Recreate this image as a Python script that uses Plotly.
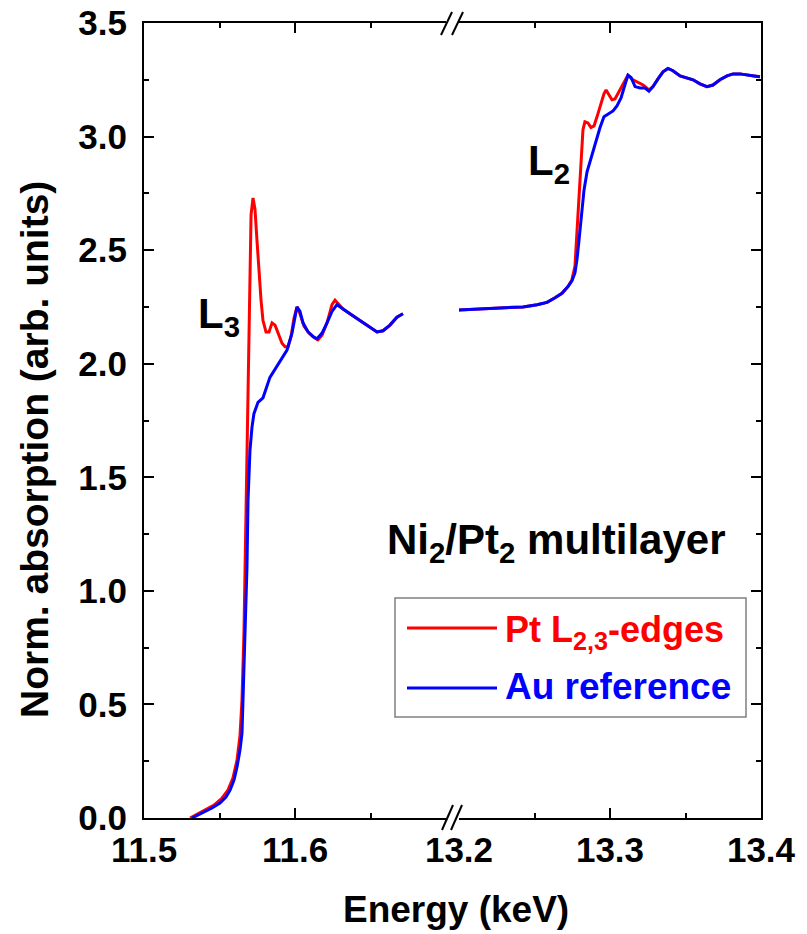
import plotly.graph_objects as go

# ---------------- data ----------------
# L3 edge region (left axis segment)
l3_energy_pt = [11.5305, 11.5358, 11.541, 11.5464, 11.5517, 11.5556, 11.5589, 11.5616, 11.5636,
                11.5649, 11.5662, 11.5669, 11.5675, 11.5682, 11.5689, 11.5695, 11.5702, 11.5709,
                11.5722, 11.5735, 11.5748, 11.5762, 11.5775, 11.5788, 11.5808, 11.5828, 11.5848,
                11.5868, 11.5887, 11.5914, 11.5934, 11.5954, 11.5974, 11.5993, 11.6013, 11.6033,
                11.606, 11.6093, 11.6126, 11.6152, 11.6179, 11.6212, 11.6245, 11.6265, 11.6285,
                11.6318, 11.6364, 11.643, 11.6497, 11.6543, 11.6583, 11.6629, 11.6675, 11.6715]
l3_abs_pt = [0.0, 0.018, 0.035, 0.057, 0.088, 0.123, 0.176, 0.255, 0.365,
             0.52, 0.815, 1.105, 1.40, 1.665, 1.93, 2.19, 2.46, 2.655,
             2.73, 2.68, 2.545, 2.39, 2.28, 2.19, 2.14, 2.14, 2.18,
             2.17, 2.135, 2.09, 2.075, 2.075, 2.12, 2.20, 2.25, 2.22,
             2.165, 2.135, 2.115, 2.105, 2.125, 2.18, 2.26, 2.28, 2.265,
             2.24, 2.22, 2.19, 2.16, 2.14, 2.145, 2.17, 2.205, 2.22]

l3_energy_au = [11.5318, 11.5358, 11.5404, 11.545, 11.5503, 11.5543, 11.557, 11.5596, 11.5616,
                11.5636, 11.5649, 11.5656, 11.5669, 11.5682, 11.5689, 11.5702, 11.5715, 11.5728,
                11.5755, 11.5788, 11.5834, 11.5881, 11.592, 11.5947, 11.598, 11.6, 11.6013,
                11.6033, 11.6053, 11.6086, 11.6119, 11.6146, 11.6179, 11.6212, 11.6245, 11.6278,
                11.6318, 11.6364, 11.643, 11.6497, 11.6543, 11.6583, 11.6629, 11.6675, 11.6715]
l3_abs_au = [0.0, 0.013, 0.026, 0.044, 0.066, 0.092, 0.123, 0.167, 0.225,
             0.30, 0.374, 0.52, 0.815, 1.105, 1.40, 1.62, 1.72, 1.78,
             1.83, 1.85, 1.94, 1.99, 2.03, 2.06, 2.135, 2.20, 2.25,
             2.23, 2.18, 2.14, 2.12, 2.11, 2.135, 2.18, 2.23, 2.26,
             2.24, 2.22, 2.19, 2.16, 2.14, 2.145, 2.17, 2.205, 2.22]

# L2 edge region (right axis segment)
l2_energy_au = [13.2, 13.2106, 13.2205, 13.2305, 13.2424, 13.2517, 13.2583, 13.2636, 13.2682,
                13.2722, 13.2748, 13.2768, 13.2781, 13.2795, 13.2808, 13.2828, 13.2848, 13.2874,
                13.29, 13.2934, 13.296, 13.2987, 13.302, 13.3046, 13.3073, 13.3099, 13.3119,
                13.3139, 13.3166, 13.3199, 13.3232, 13.3258, 13.3285, 13.3318, 13.3351, 13.3384,
                13.3417, 13.3464, 13.351, 13.355, 13.3596, 13.3642, 13.3682, 13.3728, 13.3775,
                13.3815, 13.3861, 13.3907, 13.3954, 13.3993]
l2_abs_au = [2.237, 2.24, 2.245, 2.245, 2.25, 2.26, 2.27, 2.29, 2.31,
             2.34, 2.365, 2.40, 2.457, 2.545, 2.646, 2.765, 2.845, 2.906,
             2.97, 3.04, 3.087, 3.10, 3.113, 3.135, 3.17, 3.228, 3.27,
             3.26, 3.22, 3.214, 3.214, 3.20, 3.22, 3.254, 3.285, 3.30,
             3.29, 3.267, 3.258, 3.25, 3.232, 3.22, 3.227, 3.25, 3.267,
             3.276, 3.276, 3.27, 3.267, 3.263]

l2_energy_pt = [13.2, 13.2106, 13.2205, 13.2305, 13.2424, 13.2517, 13.2583, 13.2636, 13.2682,
                13.2722, 13.2748, 13.2768, 13.2781, 13.2795, 13.2808, 13.2821, 13.2834, 13.2854,
                13.2874, 13.2894, 13.2914, 13.294, 13.296, 13.2974, 13.2993, 13.3013, 13.3033,
                13.306, 13.3086, 13.3119, 13.3152, 13.3185, 13.3219, 13.3258, 13.3285, 13.3318,
                13.3351, 13.3384, 13.3417, 13.3464, 13.351, 13.355, 13.3596, 13.3642, 13.3682,
                13.3728, 13.3775, 13.3815, 13.3861, 13.3907, 13.3954, 13.3993]
l2_abs_pt = [2.237, 2.24, 2.245, 2.245, 2.25, 2.26, 2.27, 2.29, 2.31,
             2.34, 2.37, 2.43, 2.567, 2.72, 2.897, 3.03, 3.065, 3.06,
             3.04, 3.047, 3.087, 3.144, 3.188, 3.205, 3.183, 3.162, 3.166,
             3.197, 3.232, 3.27, 3.25, 3.24, 3.227, 3.205, 3.22, 3.254,
             3.285, 3.30, 3.29, 3.267, 3.258, 3.25, 3.232, 3.22, 3.227,
             3.25, 3.267, 3.276, 3.276, 3.27, 3.267, 3.263]

left_ticks = [11.5, 11.6]
left_minor = [11.55, 11.65]
right_ticks = [13.2, 13.3, 13.4]
right_minor = [13.25, 13.35]
y_ticks = [0.0, 0.5, 1.0, 1.5, 2.0, 2.5, 3.0, 3.5]
y_minor = [0.25, 0.75, 1.25, 1.75, 2.25, 2.75, 3.25]

RED = "#ff0000"
BLUE = "#0000ff"
FONT = "Arial, Liberation Sans, sans-serif"

# ---------------- figure ----------------
fig = go.Figure()
fig.add_trace(go.Scatter(x=l3_energy_pt, y=l3_abs_pt, mode="lines", line=dict(color=RED, width=3),
                         name="Pt L<sub>2,3</sub>-edges", xaxis="x", yaxis="y", showlegend=False))
fig.add_trace(go.Scatter(x=l2_energy_pt, y=l2_abs_pt, mode="lines", line=dict(color=RED, width=3),
                         name="Pt L<sub>2,3</sub>-edges", xaxis="x2", yaxis="y2", showlegend=False))
fig.add_trace(go.Scatter(x=l3_energy_au, y=l3_abs_au, mode="lines", line=dict(color=BLUE, width=3),
                         name="Au reference", xaxis="x", yaxis="y", showlegend=False))
fig.add_trace(go.Scatter(x=l2_energy_au, y=l2_abs_au, mode="lines", line=dict(color=BLUE, width=3),
                         name="Au reference", xaxis="x2", yaxis="y2", showlegend=False))

PW = 617.0  # plot width in px
PH = 795.0  # plot height in px
L0, B0 = 144.0, 818.0


def px(x):
    return (x - L0) / PW


def py(y):
    return (B0 - y) / PH


axis_common = dict(showline=True, linecolor="black", linewidth=2, ticks="inside", ticklen=10,
                   tickwidth=2, tickcolor="black", showgrid=False, zeroline=False, automargin=False,
                   tickfont=dict(family=FONT, size=35, color="black", weight="bold"))

fig.update_layout(
    width=807, height=934,
    margin=dict(l=144, r=46, t=23, b=116, pad=0, autoexpand=False),
    paper_bgcolor="white", plot_bgcolor="white",
    showlegend=False,
    xaxis=dict(domain=[0, 302 / PW], range=[11.5, 11.7], tickvals=left_ticks, tickformat=".1f",
               anchor="y", mirror="ticks",
               minor=dict(tickvals=left_minor, ticks="inside", ticklen=5, tickwidth=2, tickcolor="black"),
               **axis_common),
    xaxis2=dict(domain=[315 / PW, 1], range=[13.2, 13.4], tickvals=right_ticks, tickformat=".1f",
                anchor="y2", mirror="ticks",
                minor=dict(tickvals=right_minor, ticks="inside", ticklen=5, tickwidth=2, tickcolor="black"),
                **axis_common),
    yaxis=dict(range=[0, 3.5], tickvals=y_ticks, tickformat=".1f", anchor="x", side="left",
               ticklabelstandoff=8,
               minor=dict(tickvals=y_minor, ticks="inside", ticklen=5, tickwidth=2, tickcolor="black"),
               **axis_common),
    yaxis2=dict(range=[0, 3.5], tickvals=y_ticks, anchor="x2", side="right", showticklabels=False,
                minor=dict(tickvals=y_minor, ticks="inside", ticklen=5, tickwidth=2, tickcolor="black"),
                **axis_common),
)

# axis break marks
shapes = []
for (x0, y0, x1, y1) in [(441, 35, 452, 12), (452, 35, 463, 12),
                         (442, 830, 453, 805), (451, 830, 462, 805)]:
    shapes.append(dict(type="line", xref="paper", yref="paper", x0=px(x0), y0=py(y0), x1=px(x1), y1=py(y1),
                       line=dict(color="black", width=2)))

# legend box (manual, to match long line samples)
shapes.append(dict(type="rect", xref="paper", yref="paper", x0=px(395), x1=px(746), y0=py(717), y1=py(598),
                   line=dict(color="#808080", width=1.5), fillcolor="white", layer="above"))
shapes.append(dict(type="line", xref="paper", yref="paper", x0=px(407), x1=px(497), y0=py(628), y1=py(628),
                   line=dict(color=RED, width=3)))
shapes.append(dict(type="line", xref="paper", yref="paper", x0=px(407), x1=px(497), y0=py(688), y1=py(688),
                   line=dict(color=BLUE, width=3)))
fig.update_layout(shapes=shapes)

ann = []
ann.append(dict(text="Pt L<sub>2,3</sub>-edges", x=px(503), y=py(632), xref="paper", yref="paper",
                xanchor="left", yanchor="middle", showarrow=False,
                font=dict(family=FONT, size=36, color=RED, weight="bold")))
ann.append(dict(text="Au reference", x=px(503), y=py(686), xref="paper", yref="paper",
                xanchor="left", yanchor="middle", showarrow=False,
                font=dict(family=FONT, size=37, color=BLUE, weight="bold")))
ann.append(dict(text="Ni<sub>2</sub>/Pt<sub>2</sub> multilayer", x=px(385), y=py(542), xref="paper",
                yref="paper", xanchor="left", yanchor="middle", showarrow=False,
                font=dict(family=FONT, size=42, color="black", weight="bold")))
ann.append(dict(text="L<sub>3</sub>", x=px(196), y=py(316), xref="paper", yref="paper",
                xanchor="left", yanchor="middle", showarrow=False,
                font=dict(family=FONT, size=42, color="black", weight="bold")))
ann.append(dict(text="L<sub>2</sub>", x=px(526), y=py(164), xref="paper", yref="paper",
                xanchor="left", yanchor="middle", showarrow=False,
                font=dict(family=FONT, size=42, color="black", weight="bold")))
ann.append(dict(text="Energy (keV)", x=px(456), y=py(909), xref="paper", yref="paper",
                xanchor="center", yanchor="middle", showarrow=False,
                font=dict(family=FONT, size=37, color="black", weight="bold")))
ann.append(dict(text="Norm. absorption (arb. units)", x=px(34), y=py(450), xref="paper", yref="paper",
                xanchor="center", yanchor="middle", showarrow=False, textangle=-90,
                font=dict(family=FONT, size=39, color="black", weight="bold")))
fig.update_layout(annotations=ann)

fig.write_html("out.html")
